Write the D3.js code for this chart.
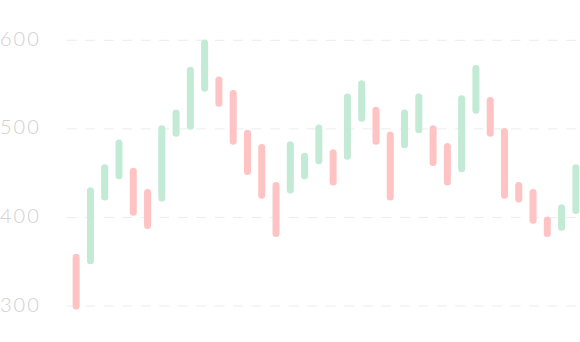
<!DOCTYPE html>
<html>
<head>
<meta charset="utf-8">
<script src="https://cdn.jsdelivr.net/npm/d3@7"></script>
<style>
  html, body { margin: 0; padding: 0; background: #fff; }
  svg { display: block; }
  .tick-label { font-family: Lato, "Open Sans", sans-serif; font-weight: 300; font-size: 20px; fill: #d0d0d0; letter-spacing: 2px; }
</style>
</head>
<body>
<svg id="chart"></svg>
<script>
// open / close per period
const opens  = [359, 347, 419, 443, 456, 432, 418, 491, 499, 542, 559, 544, 499, 483, 440, 427, 443, 460, 477, 465, 508, 525, 497, 478, 495, 504, 484, 451, 517, 536, 501, 440, 432, 401, 385, 404];
const closes = [296, 434, 460, 488, 402, 387, 504, 522, 570, 601, 525, 482, 448, 421, 378, 486, 473, 505, 436, 540, 555, 482, 419, 522, 540, 458, 436, 538, 572, 491, 421, 417, 393, 378, 415, 460];
const yTicks = [300, 400, 500, 600];

const chartw = 580;
const charth = 342;

const svg = d3.select("#chart").attr("width", chartw).attr("height", charth);

const x = d3.scaleBand().domain(d3.range(opens.length)).range([69, 583]);
const y = d3.scaleLinear().domain([300, 600]).range([306, 40.3]);

const barW = 7;

// grid
svg.append("g").selectAll("line").data(yTicks).join("line")
  .attr("x1", 66.7)
  .attr("x2", chartw)
  .attr("y1", d => y(d))
  .attr("y2", d => y(d))
  .attr("stroke", "#ececec")
  .attr("stroke-width", 1)
  .attr("stroke-dasharray", "10 8.5");

svg.append("g").selectAll("text").data(yTicks).join("text")
  .attr("class", "tick-label")
  .attr("x", 0)
  .attr("y", d => y(d) + 5.6)
  .text(d => d);

const data = opens.map((o, i) => ({ i, open: o, close: closes[i] }));

svg.append("g").selectAll("rect").data(data).join("rect")
  .attr("x", d => x(d.i) + x.bandwidth() / 2 - barW / 2)
  .attr("width", barW)
  .attr("y", d => y(Math.max(d.open, d.close)))
  .attr("height", d => Math.abs(y(d.open) - y(d.close)))
  .attr("rx", barW / 2)
  .attr("fill", d => d.close >= d.open ? "#c2ead5" : "#ffc3c3");
</script>
</body>
</html>
